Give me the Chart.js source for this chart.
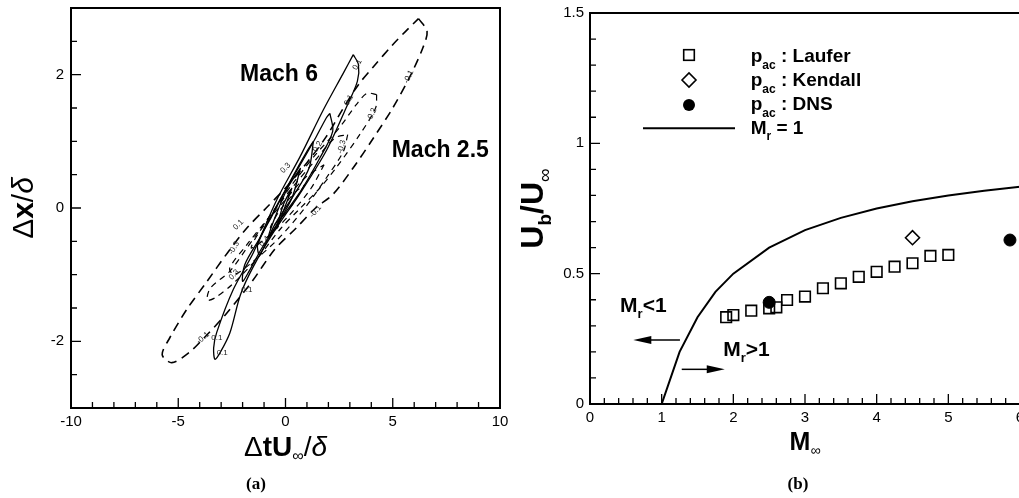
<!DOCTYPE html>
<html lang="en">
<head>
<meta charset="UTF-8">
<title>Contours and Ub/U</title>
<script src="https://cdn.jsdelivr.net/npm/chart.js"></script>
<style>
  html, body { margin: 0; padding: 0; background: #fff; overflow: hidden; }
  #left { position: absolute; left: 0; top: 0; }
  #right { position: absolute; left: 510px; top: 0; }
</style>
</head>
<body>
<canvas id="left" width="510" height="498"></canvas>
<canvas id="right" width="520" height="498"></canvas>
<script>
// ---- (a) space-time correlation contours, [dt*Uinf/delta, dx/delta]
const mach25_01 = [[6.2,2.84],[6.6,2.65],[6.4,2.4],[5.8,1.97],[5.0,1.5],[4.1,1.05],[3.15,0.6],[2.2,0.2],[1.4,0.0],[0.5,-0.3],[-0.5,-0.62],[-1.6,-1.12],[-2.8,-1.6],[-3.8,-1.95],[-4.5,-2.17],[-5.3,-2.32],[-5.75,-2.2],[-5.4,-1.95],[-4.6,-1.52],[-3.7,-1.12],[-2.7,-0.67],[-1.8,-0.3],[-0.9,0.0],[0.0,0.3],[1.0,0.68],[1.9,1.07],[2.7,1.5],[3.4,1.85],[4.1,2.12],[5.0,2.45],[5.6,2.65],[6.2,2.84]];
const mach25_02 = [[4.25,1.7],[4.2,1.5],[3.5,1.12],[2.4,0.62],[1.6,0.3],[0.7,0.0],[-0.2,-0.3],[-1.3,-0.75],[-2.5,-1.15],[-3.3,-1.35],[-3.65,-1.38],[-3.5,-1.2],[-2.6,-0.95],[-1.8,-0.6],[-0.8,-0.15],[0.3,0.35],[1.4,0.8],[2.5,1.2],[3.3,1.55],[3.8,1.72],[4.25,1.7]];
const mach25_03 = [[2.9,1.1],[2.7,0.85],[1.9,0.45],[0.9,0.0],[-0.3,-0.45],[-1.5,-0.8],[-2.4,-1.0],[-2.6,-0.9],[-1.8,-0.55],[-0.8,-0.15],[0.3,0.3],[1.4,0.72],[2.3,1.05],[2.9,1.1]];
const mach25_04 = [[1.8,0.65],[1.2,0.3],[0.2,-0.1],[-0.9,-0.45],[-1.6,-0.6],[-1.2,-0.35],[-0.2,0.05],[0.9,0.45],[1.8,0.65]];
const mach25_06 = [[0.9,0.35],[0.2,0.0],[-0.7,-0.3],[-0.3,-0.05],[0.5,0.25],[0.9,0.35]];
const mach6_01 = [[3.16,2.3],[3.4,2.15],[3.35,1.9],[2.85,1.52],[1.92,0.87],[0.68,0.22],[-0.57,-0.37],[-1.5,-0.88],[-2.1,-1.3],[-2.59,-1.87],[-3.05,-2.17],[-3.29,-2.27],[-3.35,-2.1],[-3.21,-1.87],[-2.43,-1.22],[-1.5,-0.67],[-0.41,0.12],[0.68,0.77],[1.76,1.47],[2.69,2.02],[3.16,2.3]];
const mach6_02 = [[2.07,1.42],[2.2,1.15],[1.6,0.75],[0.7,0.25],[-0.3,-0.2],[-1.1,-0.6],[-1.7,-0.95],[-2.0,-1.1],[-1.9,-0.85],[-1.2,-0.45],[-0.3,0.1],[0.6,0.6],[1.4,1.05],[1.9,1.35],[2.07,1.42]];
const mach6_03 = [[1.3,1.0],[1.1,0.6],[0.4,0.2],[-0.5,-0.25],[-1.2,-0.7],[-1.3,-0.55],[-0.6,-0.1],[0.3,0.45],[1.0,0.85],[1.3,1.0]];
const mach6_05 = [[0.7,0.6],[0.3,0.15],[-0.4,-0.25],[-0.8,-0.45],[-0.5,-0.15],[0.1,0.3],[0.7,0.6]];
const mach6_08 = [[0.3,0.3],[-0.1,-0.05],[-0.4,-0.3],[-0.1,0.05],[0.3,0.3]];
// contour level labels: text, x, y, angle (deg)
const contourLabels = [
  ['0.1', 3.35, 2.15, -60], ['0.1', 2.95, 1.62, -60], ['0.2', 1.5, 0.92, -60],
  ['0.1', -3.2, -1.95, 0], ['0.1', -2.95, -2.17, 0], ['0.1', -1.8, -1.22, 0],
  ['-0.1', 5.75, 1.97, -65], ['-0.2', 4.02, 1.4, -65], ['-0.3', 2.62, 0.92, -75],
  ['-0.1', -3.85, -1.95, -40], ['0.1', -2.2, -0.25, -45], ['-0.3', -2.4, -0.6, -60],
  ['0.3', -2.4, -1.0, -45], ['-0.1', 1.4, -0.05, -50], ['0.3', 0.0, 0.6, -45], ['0.4', -1.0, -0.5, -45]
];
const leftXTicks = [-10, -5, 0, 5, 10];
const leftYTicks = [-2, 0, 2];

// ---- (b) convection velocity of the radiated field
const lauferM  = [1.9, 2.0, 2.25, 2.5, 2.6, 2.75, 3.0, 3.25, 3.5, 3.75, 4.0, 4.25, 4.5, 4.75, 5.0];
const lauferUb = [0.333, 0.341, 0.358, 0.367, 0.371, 0.399, 0.412, 0.444, 0.463, 0.488, 0.507, 0.527, 0.540, 0.568, 0.572];
const kendallM  = [4.5];
const kendallUb = [0.638];
const dnsM  = [2.5, 5.86];
const dnsUb = [0.39, 0.629];
const mr1M  = [1, 1.25, 1.5, 1.75, 2, 2.5, 3, 3.5, 4, 4.5, 5, 5.5, 6];
const mr1Ub = [0, 0.2, 0.333, 0.43, 0.5, 0.6, 0.667, 0.714, 0.75, 0.778, 0.8, 0.818, 0.833];
const rightXTicks = [0, 1, 2, 3, 4, 5, 6];
const rightYTicks = [0, 0.5, 1, 1.5];

const SANS = 'Liberation Sans, Arial, sans-serif';
const SERIF = 'Liberation Serif, Times New Roman, serif';
const tickFont = { family: SANS, size: 15 };

function pts(arr) { return arr.map(p => ({ x: p[0], y: p[1] })); }
function xy(xs, ys) { return xs.map((x, i) => ({ x: x, y: ys[i] })); }

function drawRich(ctx, parts, x, y, align) {
  let w = 0;
  parts.forEach(p => { ctx.font = p.font; p.w = ctx.measureText(p.t).width; w += p.w; });
  let cx = align === 'center' ? x - w / 2 : x;
  ctx.textAlign = 'left';
  ctx.textBaseline = 'alphabetic';
  parts.forEach(p => { ctx.font = p.font; ctx.fillText(p.t, cx, y + (p.dy || 0)); cx += p.w; });
}

function drawFrame(chart, xStep, yStep, xMajor, yMajor) {
  const { ctx, chartArea: a, scales: { x, y } } = chart;
  ctx.save();
  ctx.strokeStyle = '#000';
  ctx.lineWidth = 1.3;
  ctx.beginPath();
  for (let v = x.min; v <= x.max + 1e-9; v += xStep) {
    const px = x.getPixelForValue(v);
    ctx.moveTo(px, a.bottom); ctx.lineTo(px, a.bottom - 6);
  }
  for (let v = y.min; v <= y.max + 1e-9; v += yStep) {
    const py = y.getPixelForValue(v);
    ctx.moveTo(a.left, py); ctx.lineTo(a.left + 6, py);
  }
  xMajor.forEach(v => { const px = x.getPixelForValue(v); ctx.moveTo(px, a.bottom); ctx.lineTo(px, a.bottom - 10); });
  yMajor.forEach(v => { const py = y.getPixelForValue(v); ctx.moveTo(a.left, py); ctx.lineTo(a.left + 10, py); });
  ctx.stroke();
  ctx.lineWidth = 2;
  ctx.strokeRect(a.left, a.top, a.right - a.left, a.bottom - a.top);
  ctx.restore();
}

function scaleOpts(min, max, ticks, size, pad, isX) {
  return {
    type: 'linear', min: min, max: max,
    afterBuildTicks: s => { s.ticks = ticks.map(v => ({ value: v })); },
    afterFit: s => {
      if (isX) { s.height = size; s.paddingLeft = 0; s.paddingRight = 0; }
      else { s.width = size; s.paddingTop = 0; s.paddingBottom = 0; }
    },
    grid: { display: false, drawTicks: false },
    border: { display: false },
    ticks: { font: tickFont, color: '#000', padding: pad, maxRotation: 0, autoSkip: false,
             callback: v => String(v) }
  };
}

// ---------------- (a)
const solid = { borderColor: '#000', borderWidth: 1.3, pointRadius: 0, showLine: true, tension: 0.3, fill: false };
const dashOuter = Object.assign({}, solid, { borderWidth: 1.6, borderDash: [9, 6] });
const dashInner = Object.assign({}, solid, { borderWidth: 1.2, borderDash: [6, 5] });

const leftPlugin = {
  id: 'leftDecor',
  afterDraw(chart) {
    const { ctx, chartArea: a, scales: { x, y } } = chart;
    drawFrame(chart, 1, 0.5, leftXTicks, leftYTicks);
    ctx.save();
    ctx.fillStyle = '#222';
    ctx.font = '8px ' + SANS;
    ctx.textAlign = 'center';
    ctx.textBaseline = 'middle';
    contourLabels.forEach(l => {
      ctx.save();
      ctx.translate(x.getPixelForValue(l[1]), y.getPixelForValue(l[2]));
      ctx.rotate(l[3] * Math.PI / 180);
      ctx.fillText(l[0], 0, 0);
      ctx.restore();
    });
    ctx.fillStyle = '#000';
    drawRich(ctx, [{ t: 'Mach 6', font: 'bold 23px ' + SANS }], x.getPixelForValue(-2.12), y.getPixelForValue(1.9), 'left');
    drawRich(ctx, [{ t: 'Mach 2.5', font: 'bold 23px ' + SANS }], x.getPixelForValue(4.95), y.getPixelForValue(0.77), 'left');
    const cx = (a.left + a.right) / 2;
    drawRich(ctx, [
      { t: '\u0394', font: '28px ' + SANS },
      { t: 'tU', font: 'bold 28px ' + SANS },
      { t: '\u221e', font: '16px ' + SANS, dy: 5 },
      { t: '/', font: '28px ' + SANS },
      { t: '\u03b4', font: 'italic 28px ' + SANS }
    ], cx, 456, 'center');
    ctx.save();
    ctx.translate(33, (a.top + a.bottom) / 2);
    ctx.rotate(-Math.PI / 2);
    drawRich(ctx, [
      { t: '\u0394', font: '30px ' + SANS },
      { t: 'x', font: 'bold 30px ' + SANS },
      { t: '/', font: '30px ' + SANS },
      { t: '\u03b4', font: 'italic 30px ' + SANS }
    ], 0, 0, 'center');
    ctx.restore();
    drawRich(ctx, [{ t: '(a)', font: 'bold 17px ' + SERIF }], 256, 489, 'center');
    ctx.restore();
  }
};

new Chart(document.getElementById('left'), {
  type: 'scatter',
  data: {
    datasets: [
      Object.assign({ label: 'Mach 2.5 0.1', data: pts(mach25_01) }, dashOuter),
      Object.assign({ label: 'Mach 2.5 0.2', data: pts(mach25_02) }, dashInner),
      Object.assign({ label: 'Mach 2.5 0.3', data: pts(mach25_03) }, dashInner),
      Object.assign({ label: 'Mach 2.5 0.4', data: pts(mach25_04) }, dashInner),
      Object.assign({ label: 'Mach 2.5 0.6', data: pts(mach25_06) }, dashInner),
      Object.assign({ label: 'Mach 6 0.1', data: pts(mach6_01) }, solid),
      Object.assign({ label: 'Mach 6 0.2', data: pts(mach6_02) }, solid),
      Object.assign({ label: 'Mach 6 0.3', data: pts(mach6_03) }, solid),
      Object.assign({ label: 'Mach 6 0.5', data: pts(mach6_05) }, solid),
      Object.assign({ label: 'Mach 6 0.8', data: pts(mach6_08) }, solid)
    ]
  },
  options: {
    responsive: false,
    animation: false,
    layout: { padding: { top: 8, right: 10, left: 0, bottom: 0 } },
    plugins: { legend: { display: false }, tooltip: { enabled: false } },
    scales: {
      x: scaleOpts(-10, 10, leftXTicks, 90, 5, true),
      y: scaleOpts(-3, 3, leftYTicks, 71, 7, false)
    }
  },
  plugins: [leftPlugin]
});

// ---------------- (b)
function arrow(ctx, x0, y0, x1, y1) {
  const dir = Math.sign(x1 - x0);
  ctx.beginPath();
  ctx.moveTo(x0, y0); ctx.lineTo(x1 - dir * 14, y1);
  ctx.stroke();
  ctx.beginPath();
  ctx.moveTo(x1, y1); ctx.lineTo(x1 - dir * 18, y1 - 4); ctx.lineTo(x1 - dir * 18, y1 + 4);
  ctx.closePath();
  ctx.fill();
}

const rightPlugin = {
  id: 'rightDecor',
  afterDraw(chart) {
    const { ctx, chartArea: a, scales: { x, y } } = chart;
    drawFrame(chart, 0.2, 0.1, rightXTicks, rightYTicks);
    ctx.save();
    ctx.strokeStyle = '#000';
    ctx.fillStyle = '#000';
    // legend
    const sx = 179, tx = 240.7;
    ctx.lineWidth = 1.6;
    ctx.strokeRect(sx - 5.3, 55 - 5.3, 10.6, 10.6);
    ctx.beginPath();
    ctx.moveTo(sx - 7, 80); ctx.lineTo(sx, 73); ctx.lineTo(sx + 7, 80); ctx.lineTo(sx, 87); ctx.closePath();
    ctx.stroke();
    ctx.beginPath(); ctx.arc(sx, 105, 6, 0, Math.PI * 2); ctx.fill();
    ctx.lineWidth = 2;
    ctx.beginPath(); ctx.moveTo(133, 128.3); ctx.lineTo(225, 128.3); ctx.stroke();
    const B = 'bold 19px ' + SANS, Bs = 'bold 12px ' + SANS;
    drawRich(ctx, [{ t: 'p', font: B }, { t: 'ac', font: Bs, dy: 7 }, { t: ' : Laufer', font: B }], tx, 61.7, 'left');
    drawRich(ctx, [{ t: 'p', font: B }, { t: 'ac', font: Bs, dy: 7 }, { t: ' : Kendall', font: B }], tx, 86, 'left');
    drawRich(ctx, [{ t: 'p', font: B }, { t: 'ac', font: Bs, dy: 7 }, { t: ' : DNS', font: B }], tx, 110, 'left');
    drawRich(ctx, [{ t: 'M', font: B }, { t: 'r', font: Bs, dy: 6 }, { t: ' = 1', font: B }], tx, 134.3, 'left');
    // regions
    const R = 'bold 21px ' + SANS, Rs = 'bold 13px ' + SANS;
    drawRich(ctx, [{ t: 'M', font: R }, { t: 'r', font: Rs, dy: 6 }, { t: '<1', font: R }], x.getPixelForValue(0.42), y.getPixelForValue(0.354), 'left');
    drawRich(ctx, [{ t: 'M', font: R }, { t: 'r', font: Rs, dy: 6 }, { t: '>1', font: R }], x.getPixelForValue(1.86), y.getPixelForValue(0.184), 'left');
    ctx.lineWidth = 1.5;
    arrow(ctx, x.getPixelForValue(1.255), y.getPixelForValue(0.2455), x.getPixelForValue(0.604), y.getPixelForValue(0.2455));
    arrow(ctx, x.getPixelForValue(1.28), y.getPixelForValue(0.133), x.getPixelForValue(1.88), y.getPixelForValue(0.133));
    // axis titles
    drawRich(ctx, [{ t: 'M', font: 'bold 25px ' + SANS }, { t: '\u221e', font: '14px ' + SANS, dy: 5 }], (a.left + a.right) / 2, 450, 'center');
    ctx.save();
    ctx.translate(33.3, (a.top + a.bottom) / 2);
    ctx.rotate(-Math.PI / 2);
    drawRich(ctx, [
      { t: 'U', font: 'bold 32px ' + SANS },
      { t: 'b', font: 'bold 19px ' + SANS, dy: 8 },
      { t: '/U', font: 'bold 32px ' + SANS },
      { t: '\u221e', font: '19px ' + SANS, dy: 8 }
    ], 0, 0, 'center');
    ctx.restore();
    drawRich(ctx, [{ t: '(b)', font: 'bold 17px ' + SERIF }], 288, 489, 'center');
    ctx.restore();
  }
};

new Chart(document.getElementById('right'), {
  type: 'scatter',
  data: {
    datasets: [
      { label: 'Mr = 1', data: xy(mr1M, mr1Ub), showLine: true, borderColor: '#000', borderWidth: 2, pointRadius: 0, tension: 0 },
      { label: 'pac : Laufer', data: xy(lauferM, lauferUb), pointStyle: 'rect', pointRadius: 7.5, borderColor: '#000', borderWidth: 1.6, backgroundColor: 'rgba(0,0,0,0)' },
      { label: 'pac : Kendall', data: xy(kendallM, kendallUb), pointStyle: 'rectRot', pointRadius: 7, borderColor: '#000', borderWidth: 1.6, backgroundColor: 'rgba(0,0,0,0)' },
      { label: 'pac : DNS', data: xy(dnsM, dnsUb), pointStyle: 'circle', pointRadius: 6, borderColor: '#000', borderWidth: 1, backgroundColor: '#000' }
    ]
  },
  options: {
    responsive: false,
    animation: false,
    layout: { padding: { top: 13, right: 10, left: 0, bottom: 0 } },
    plugins: { legend: { display: false }, tooltip: { enabled: false } },
    scales: {
      x: scaleOpts(0, 6, rightXTicks, 94, 5, true),
      y: scaleOpts(0, 1.5, rightYTicks, 80, 6, false)
    }
  },
  plugins: [rightPlugin]
});
</script>
</body>
</html>
